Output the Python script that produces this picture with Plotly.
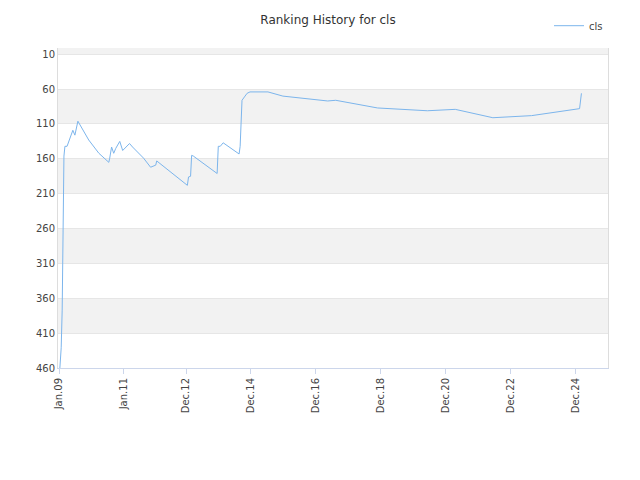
import plotly.graph_objects as go

dates = ["2009-01-10", "2009-01-25", "2009-02-05", "2009-02-15", "2009-02-25", "2009-03-08",
         "2009-04-01", "2009-06-05", "2009-06-28", "2009-08-01", "2009-12-01", "2010-03-25",
         "2010-07-15", "2010-07-25", "2010-08-15", "2010-09-08", "2010-10-01", "2010-11-15",
         "2010-12-18", "2011-03-05", "2011-04-08", "2011-08-10", "2011-10-28", "2011-12-25",
         "2012-01-05", "2012-12-15", "2012-12-28", "2013-01-20", "2013-02-01", "2013-02-20",
         "2013-11-15", "2013-11-28", "2013-12-20", "2014-01-22", "2014-07-20", "2014-08-01",
         "2014-08-12", "2014-08-22", "2014-09-25", "2014-10-18", "2014-11-20", "2015-06-10",
         "2015-11-25", "2017-04-12", "2017-07-12", "2018-10-25", "2020-05-08", "2021-03-18",
         "2022-05-15", "2023-07-25", "2025-01-15", "2025-01-26", "2025-02-05"]
ranks = [460, 431, 377, 195, 156, 142, 142, 119, 126, 106, 133, 152,
         165, 159, 143, 152, 145, 135, 148, 138, 143, 159, 172, 169,
         163, 198, 186, 185, 155, 156, 181, 142, 142, 137, 153, 142,
         99, 76, 70, 66, 64, 64, 70, 77, 76, 87, 91, 89, 101, 98, 88, 73, 66]

tick_vals = ["2009-01-01", "2011-01-01", "2012-12-01", "2014-12-01", "2016-12-01",
             "2018-12-01", "2020-12-01", "2022-12-01", "2024-12-01"]
tick_text = ["Jan.09", "Jan.11", "Dec.12", "Dec.14", "Dec.16", "Dec.18", "Dec.20", "Dec.22", "Dec.24"]
y_ticks = [10, 60, 110, 160, 210, 260, 310, 360, 410, 460]

fig = go.Figure()
fig.add_trace(go.Scatter(x=dates, y=ranks, mode="lines", name="cls",
                         line=dict(color="#7cb5ec", width=1)))

# grey bands every other 50
shapes = []
for lo in [-40, 60, 160, 260, 360]:
    shapes.append(dict(type="rect", xref="paper", x0=0, x1=1, yref="y", y0=lo, y1=lo + 50,
                       fillcolor="#f2f2f2", line_width=0, layer="below"))

fig.update_layout(
    width=640, height=480, plot_bgcolor="white", paper_bgcolor="white",
    font=dict(family="DejaVu Sans", size=10, color="#444"),
    title=dict(text="Ranking History for cls", x=0.5, y=0.975, yanchor="middle",
               font=dict(size=12, color="#333")),
    margin=dict(l=50, r=40, t=40, b=120, autoexpand=False),
    shapes=shapes,
    showlegend=True,
    legend=dict(x=1.0, y=1.115, xanchor="right", yanchor="top", font=dict(size=10)),
    xaxis=dict(range=["2008-12-20", "2025-12-01"], tickvals=tick_vals, ticktext=tick_text,
               tickangle=-90, showgrid=False, showline=True, linecolor="#ccd6eb",
               ticks="outside", ticklen=5, tickcolor="#ccd6eb", automargin=False),
    yaxis=dict(range=[460, 1], tickvals=y_ticks, showgrid=True, gridcolor="#e6e6e6",
               zeroline=False, showline=True, linecolor="#ddd", mirror=True, automargin=False),
)
fig.write_html("out.html")
